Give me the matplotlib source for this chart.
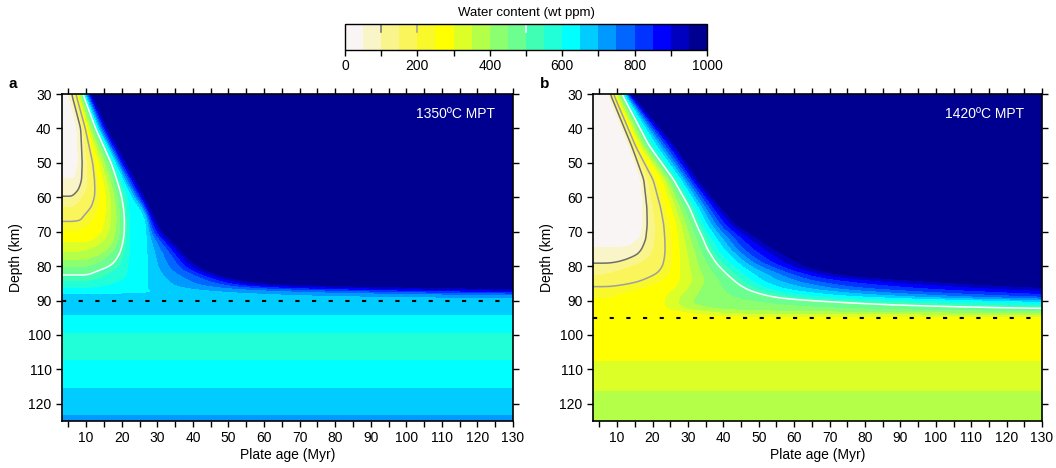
import matplotlib
matplotlib.use("Agg")
import matplotlib.pyplot as plt
import numpy as np
from matplotlib.colors import ListedColormap, BoundaryNorm

plt.rcParams["font.family"] = ["Liberation Sans", "DejaVu Sans"]

# colour bins of the water-content scale (wt ppm)
BOUNDS = np.arange(0, 1050, 50)
COLORS = ["#faf5f5", "#f9f5c8", "#faf48c", "#faf55a", "#f8f82a", "#ffff00",
          "#dcff28", "#b4ff48", "#8cff70", "#6cff90", "#40ffb4", "#20ffd8",
          "#00ffff", "#00ccff", "#0099ff", "#0066ff", "#0033ff", "#0000ff",
          "#0000c0", "#000090"]

LEVELS = np.array([0, 50, 100, 200, 300, 400, 500, 600, 650, 800, 950, 1000])

# ---- panel a : 1350 C MPT ----
A_ROW_DEPTH = [30, 40, 50, 55, 58, 60, 63, 66, 70, 73, 76, 79, 80.5, 82, 84,
               85.5, 87, 95]
A_ROW_AGES = [
    [4.0, 5.0, 6.0, 7.2, 7.8, 8.5, 9.1, 9.65, 9.95, 10.8, 11.6, 12.1],
    [6.2, 7.5, 8.5, 9.8, 10.7, 11.6, 12.8, 13.3, 13.7, 14.8, 16.1, 16.8],
    [6.5, 8.0, 8.8, 11.9, 13.7, 15.5, 17.1, 18.0, 18.6, 19.8, 21.3, 22.3],
    [6.0, 7.0, 8.7, 12.4, 15.0, 17.0, 18.7, 20.0, 20.8, 22.4, 24.0, 25.0],
    [5.0, 6.0, 7.8, 12.5, 15.5, 17.8, 19.5, 21.2, 22.3, 23.9, 25.6, 26.5],
    [4.0, 5.0, 6.0, 12.4, 15.8, 18.2, 20.0, 21.9, 23.3, 25.0, 26.6, 27.5],
    [4.0, 5.0, 6.0, 11.5, 15.8, 18.6, 20.5, 22.1, 25.5, 26.8, 28.0, 29.0],
    [4.0, 5.0, 6.0, 9.0, 15.5, 18.8, 20.8, 22.2, 27.0, 27.8, 29.5, 30.5],
    [4.0, 5.0, 6.0, 7.0, 15.0, 18.5, 20.8, 22.2, 27.3, 29.2, 31.5, 32.5],
    [4.0, 5.0, 6.0, 7.0, 12.0, 18.0, 20.4, 22.2, 27.4, 31.5, 34.5, 35.5],
    [4.0, 5.0, 6.0, 7.0, 8.0, 16.0, 19.6, 22.2, 27.5, 33.8, 37.3, 38.5],
    [4.0, 5.0, 6.0, 7.0, 8.0, 10.0, 18.0, 22.0, 27.5, 35.8, 40.2, 42.0],
    [4.0, 5.0, 6.0, 7.0, 8.0, 10.0, 16.0, 21.9, 27.5, 37.0, 42.5, 44.5],
    [4.0, 5.0, 6.0, 7.0, 8.0, 9.0, 11.5, 21.7, 27.5, 40.0, 45.5, 48.0],
    [4.0, 5.0, 6.0, 7.0, 8.0, 9.0, 10.0, 21.0, 27.5, 45.0, 52.5, 57.0],
    [4.0, 5.0, 6.0, 7.0, 8.0, 9.0, 10.0, 17.0, 27.5, 50.0, 62.0, 70.0],
    [4.0, 5.0, 6.0, 7.0, 8.0, 9.0, 10.0, 11.0, 27.0, 75.0, 130.0, 150.0],
    [4.0, 5.0, 6.0, 7.0, 8.0, 9.0, 10.0, 11.0, 27.0, 75.0, 130.0, 150.0],
]
A_LEFT_DEPTH = [30, 45, 55, 59.8, 63, 67.1, 70, 73.3, 76, 78.5, 80.5, 82.6,
                84.5, 86.5, 88.5, 90]
A_LEFT_WATER = [5, 20, 50, 100, 150, 200, 250, 300, 350, 400, 450, 500,
                550, 600, 650, 670]
A_DEEP_DEPTH = [86, 88, 89.3, 91.5, 94.2, 96.5, 98.9, 103, 107.6, 111.5,
                115.5, 119.5, 123.6, 125]
A_DEEP_WATER = [620, 640, 688, 675, 650, 625, 600, 585, 600, 625, 650, 675,
                700, 712]
A_BLEND = (86.2, 89.4)
A_DASH = 90

# ---- panel b : 1420 C MPT ----
B_ROW_DEPTH = [30, 45, 55, 63, 68, 72, 75, 77, 78.5, 80.5, 82.5, 84, 85.2,
               86.5, 89, 91.5, 93.5, 100]
B_ROW_AGES = [
    [6.5, 7.6, 8.1, 9.0, 9.8, 10.6, 11.4, 12.0, 12.4, 13.3, 14.2, 14.8],
    [12.0, 13.5, 14.1, 15.1, 16.5, 17.8, 19.0, 20.5, 21.5, 24.0, 26.5, 27.3],
    [15.0, 17.0, 17.4, 20.2, 23.0, 24.7, 26.0, 27.6, 28.5, 30.8, 33.0, 34.0],
    [16.0, 17.4, 18.3, 22.3, 25.5, 28.0, 30.5, 32.3, 33.3, 36.3, 39.5, 40.5],
    [16.0, 17.3, 18.4, 23.2, 27.0, 29.8, 32.5, 34.5, 35.8, 39.5, 43.9, 45.5],
    [15.5, 16.8, 18.0, 23.5, 27.5, 31.0, 34.3, 37.0, 38.5, 43.5, 50.0, 52.0],
    [12.0, 13.0, 17.0, 23.6, 27.8, 31.8, 35.5, 38.5, 40.5, 46.0, 54.5, 57.0],
    [8.0, 9.0, 15.5, 23.5, 28.0, 32.5, 36.8, 40.0, 42.5, 48.5, 58.0, 61.0],
    [6.0, 7.0, 12.0, 23.3, 28.0, 32.8, 37.6, 41.5, 44.0, 50.5, 60.0, 63.0],
    [4.0, 5.0, 6.0, 22.8, 28.0, 33.5, 39.3, 44.0, 46.5, 55.0, 64.5, 68.0],
    [4.0, 5.0, 6.0, 21.3, 28.0, 34.3, 41.3, 46.5, 49.5, 61.0, 72.0, 78.0],
    [4.0, 5.0, 6.0, 18.0, 28.0, 35.0, 43.0, 48.0, 51.0, 65.0, 90.0, 105.0],
    [4.0, 5.0, 6.0, 15.0, 27.5, 34.5, 44.5, 50.5, 54.0, 72.0, 110.0, 125.0],
    [4.0, 5.0, 6.0, 8.0, 26.5, 34.0, 46.5, 53.0, 57.0, 80.0, 135.0, 160.0],
    [4.0, 5.0, 6.0, 8.0, 24.0, 32.0, 54.0, 67.0, 78.0, 130.0, 200.0, 230.0],
    [4.0, 5.0, 6.0, 8.0, 23.5, 31.0, 90.0, 160.0, 190.0, 250.0, 300.0, 350.0],
    [4.0, 5.0, 6.0, 8.0, 30.0, 45.0, 200.0, 250.0, 280.0, 330.0, 380.0, 400.0],
    [4.0, 5.0, 6.0, 8.0, 30.0, 45.0, 200.0, 250.0, 280.0, 330.0, 380.0, 400.0],
]
B_LEFT_DEPTH = [30, 60, 74.9, 79.2, 82.6, 86.0, 88.9, 93, 100]
B_LEFT_WATER = [3, 15, 50, 100, 150, 200, 250, 262, 270]
B_DEEP_DEPTH = [88, 93, 96, 100, 104, 107.8, 112, 116.5, 121, 125]
B_DEEP_WATER = [255, 262, 268, 276, 287, 300, 324, 350, 374, 395]
B_BLEND = (92.6, 95.2)
B_DASH = 95


def smooth(W, sy, sx):
    # light separable gaussian to take the kinks out between rows
    for axis, sig in ((0, sy), (1, sx)):
        r = int(3 * sig) + 1
        k = np.exp(-0.5 * (np.arange(-r, r + 1) / sig) ** 2)
        k /= k.sum()
        pad = [(0, 0), (0, 0)]
        pad[axis] = (r, r)
        Wp = np.pad(W, pad, mode="edge")
        W = np.apply_along_axis(lambda v: np.convolve(v, k, mode="valid"), axis, Wp)
    return W


def build_field(row_depth, row_ages, left_depth, left_water,
                deep_depth, deep_water, blend):
    ages = np.linspace(3.2, 130, 640)
    depths = np.linspace(30, 125, 560)
    pos = np.array(row_ages)
    W = np.empty((len(depths), len(ages)))
    for i, z in enumerate(depths):
        p = [np.interp(z, row_depth, pos[:, k]) for k in range(len(LEVELS))]
        a = np.interp(z, left_depth, left_water)
        up = a + np.interp(ages, p, np.maximum(LEVELS - a, 0))
        t = np.clip((z - blend[0]) / (blend[1] - blend[0]), 0, 1)
        s = t * t * (3 - 2 * t)
        W[i] = up * (1 - s) + np.interp(z, deep_depth, deep_water) * s
    W = smooth(W, 4.0, 1.5)
    return ages, depths, np.clip(W, 0, 999)


cmap = ListedColormap(COLORS)
norm = BoundaryNorm(BOUNDS, cmap.N)

fig = plt.figure(figsize=(10.56, 4.68), dpi=100)
ax_a = fig.add_axes([0.0587, 0.1004, 0.4271, 0.6987])
ax_b = fig.add_axes([0.5616, 0.1004, 0.4252, 0.6987])
cax = fig.add_axes([0.3267, 0.8932, 0.3428, 0.0556])

panels = [
    (ax_a, "a", "1350ºC MPT", A_ROW_DEPTH, A_ROW_AGES, A_LEFT_DEPTH,
     A_LEFT_WATER, A_DEEP_DEPTH, A_DEEP_WATER, A_BLEND, A_DASH),
    (ax_b, "b", "1420ºC MPT", B_ROW_DEPTH, B_ROW_AGES, B_LEFT_DEPTH,
     B_LEFT_WATER, B_DEEP_DEPTH, B_DEEP_WATER, B_BLEND, B_DASH),
]

for ax, letter, label, rd, ra, ld, lw, dd, dw, bl, dash in panels:
    ages, depths, W = build_field(rd, ra, ld, lw, dd, dw, bl)
    cs = ax.contourf(ages, depths, W, levels=BOUNDS, cmap=cmap, norm=norm)
    ax.contour(ages, depths, W, levels=[100], colors="#6e6e6e", linewidths=1.1)
    ax.contour(ages, depths, W, levels=[200], colors="#9d9daa", linewidths=1.1)
    ax.contour(ages, depths, W, levels=[500], colors="white", linewidths=1.1)
    ax.axhline(dash, color="black", lw=1.5, ls=(0, (2, 6)))
    ax.set_xlim(3.2, 130)
    ax.set_ylim(125, 30)
    ax.set_xticks(np.arange(5, 131, 5))
    ax.set_xticklabels([str(v) if v % 10 == 0 else "" for v in range(5, 131, 5)])
    ax.set_yticks(np.arange(30, 121, 10))
    ax.tick_params(direction="out", length=4.5, width=1, labelsize=10,
                   top=True, right=True, pad=3)
    for sp in ax.spines.values():
        sp.set_linewidth(1.2)
    ax.set_xlabel("Plate age (Myr)", fontsize=10, labelpad=2)
    ax.set_ylabel("Depth (km)", fontsize=10, labelpad=4)
    ax.text(0.96, 0.94, label, transform=ax.transAxes, color="white",
            fontsize=10, ha="right", va="center")
    ax.text(-0.118, 1.03, letter, transform=ax.transAxes, fontsize=11,
            fontweight="bold", ha="left", va="center")

cb = fig.colorbar(cs, cax=cax, orientation="horizontal",
                  ticks=np.arange(0, 1001, 200))
cb.ax.set_xticks(np.arange(0, 1001, 100), minor=True)
cb.ax.tick_params(which="both", direction="out", length=4.5, width=1,
                  labelsize=10, pad=2)
cb.outline.set_linewidth(1)
cb.ax.set_title("Water content (wt ppm)", fontsize=9.5, pad=6)
for v, c in [(100, "#6e6e6e"), (200, "#9d9daa"), (500, "white")]:
    cb.ax.plot([v, v], [0.7, 1.0], color=c, lw=1.1,
               transform=cb.ax.get_xaxis_transform())

fig.savefig("out.png", dpi=100)
